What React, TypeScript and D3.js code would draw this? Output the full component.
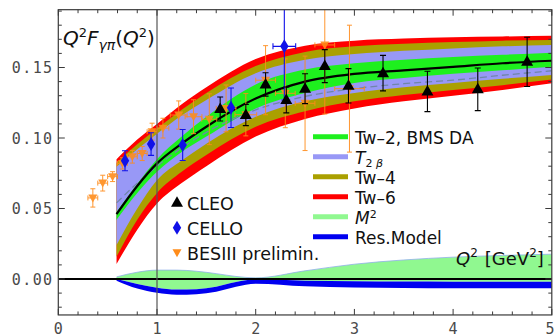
import React from 'react';
import * as d3 from 'd3';

const W = 557, H = 336;

// axes
const xTicks = [0, 1, 2, 3, 4, 5];
const xMinor = d3.range(0, 5.001, 0.2);
const yTicks = [0, 0.05, 0.1, 0.15];
const yTickLabels = ['0.00', '0.05', '0.10', '0.15'];
const yMinor = d3.range(-0.02, 0.1901, 0.01);
const xMin = 0, xMax = 5, yMin = -0.0255, yMax = 0.191;

// theory bands (upper panel)
const bandQ = [0.59, 0.8, 1.0, 1.25, 1.5, 2.0, 2.5, 3.0, 3.5, 4.0, 4.5, 5.0];
const redTop = [0.085, 0.099, 0.110, 0.124, 0.136, 0.156, 0.1655, 0.169, 0.1705, 0.1715, 0.172, 0.1725];
const oliveTop = [0.0825, 0.0955, 0.1065, 0.120, 0.132, 0.151, 0.161, 0.165, 0.1668, 0.168, 0.169, 0.1695];
const lavTop = [0.0796, 0.092, 0.103, 0.116, 0.127, 0.146, 0.1555, 0.1595, 0.1618, 0.1635, 0.165, 0.166];
const greenTop = [0.0475, 0.0675, 0.085, 0.101, 0.115, 0.138, 0.1485, 0.153, 0.1555, 0.1575, 0.159, 0.1605];
const central = [0.046, 0.066, 0.082, 0.096, 0.108, 0.128, 0.140, 0.1455, 0.148, 0.1505, 0.153, 0.1548];
const greenBot = [0.042, 0.061, 0.076, 0.090, 0.101, 0.121, 0.132, 0.139, 0.1425, 0.1455, 0.148, 0.1505];
const dashedLine = [0.054, 0.068, 0.080, 0.093, 0.104, 0.120, 0.1295, 0.135, 0.1385, 0.141, 0.1445, 0.1477];
const lavBot = [0.0241, 0.050, 0.070, 0.084, 0.096, 0.115, 0.126, 0.132, 0.136, 0.139, 0.142, 0.1447];
const oliveBot = [0.0158, 0.042, 0.061, 0.076, 0.088, 0.108, 0.119, 0.126, 0.1305, 0.134, 0.1375, 0.1415];
const redBot = [0.0106, 0.035, 0.0535, 0.068, 0.080, 0.101, 0.1135, 0.121, 0.126, 0.130, 0.134, 0.1388];

// lower panel: M^2 and resonance model
const lowQ = [0.59, 0.8, 1.0, 1.2, 1.4, 1.6, 1.8, 2.0, 2.5, 3.0, 3.5, 4.0, 4.5, 5.0];
const m2Top = [0.0015, 0.0048, 0.0063, 0.0063, 0.0055, 0.0038, 0.0018, 0.0008, 0.0058, 0.0105, 0.0135, 0.0155, 0.0167, 0.0176];
const resTop = [0.0, -0.0035, -0.0062, -0.0075, -0.0072, -0.0055, -0.0022, -0.0002, -0.0012, -0.0016, -0.0018, -0.0019, -0.0019, -0.0019];
const resBot = [-0.0012, -0.0068, -0.0098, -0.0112, -0.0108, -0.009, -0.0055, -0.0033, -0.0052, -0.006, -0.0064, -0.0066, -0.0066, -0.0066];

// data
const cleoQ = [1.64, 1.90, 2.10, 2.31, 2.50, 2.70, 2.94, 3.29, 3.74, 4.25, 4.75];
const cleoF = [0.1206, 0.1163, 0.1380, 0.1270, 0.1350, 0.1510, 0.1370, 0.1460, 0.1330, 0.1345, 0.1540];
const cleoErr = [0.0085, 0.0075, 0.0083, 0.0092, 0.0106, 0.0117, 0.0122, 0.0126, 0.0143, 0.0151, 0.0175];

const celloQ = [0.676, 0.94, 1.26, 1.75, 2.29];
const celloF = [0.0839, 0.0957, 0.095, 0.1215, 0.165];
const celloErr = [0.0071, 0.008, 0.011, 0.014, 0.038];
const celloQErr = [0, 0, 0, 0, 0.115];

const besQ = [0.35, 0.45, 0.55, 0.65, 0.75, 0.85, 0.95, 1.06, 1.22, 1.37, 1.53, 1.70, 1.90, 2.10, 2.30, 2.50, 2.70, 2.95];
const besF = [0.0575, 0.068, 0.0726, 0.082, 0.0867, 0.089, 0.1045, 0.107, 0.1163, 0.1151, 0.1133, 0.121, 0.1165, 0.141, 0.1317, 0.1246, 0.166, 0.135];
const besErr = [0.0065, 0.0056, 0.0035, 0.004, 0.0045, 0.005, 0.006, 0.007, 0.010, 0.012, 0.018, 0.0166, 0.015, 0.0245, 0.0244, 0.0335, 0.049, 0.045];
const besQErr = [0.05, 0.05, 0.05, 0.05, 0.05, 0.05, 0.05, 0.06, 0.085, 0.085, 0.076, 0.1, 0.11, 0.1, 0.1, 0.1, 0.1, 0.15];

const legendA = ['CLEO', 'CELLO', 'BESIII prelimin.'];
const legendB = ['Tw–2, BMS DA', 'T2β', 'Tw–4', 'Tw–6', 'M2', 'Res.Model'];

const C_RED = '#ff0000';
const C_OLIVE = '#aaa000';
const C_LAV = '#9898f6';
const C_GREEN = '#1ef01e';
const C_M2 = '#90f890';
const C_BLUE = '#0000f0';
const C_CELLO = '#1010e8';
const C_BES = '#ff8c1a';
const legendColors = [C_GREEN, C_LAV, C_OLIVE, C_RED, C_M2, C_BLUE];

const x = d3.scaleLinear().domain([xMin, xMax]).range([58.3, 551.8]);
const y = d3.scaleLinear().domain([0, 0.15]).range([279, 67.5]);

const areaPath = (qs: number[], lo: number[], hi: number[]) =>
  d3.area<number>()
    .x((_, i) => x(qs[i]))
    .y0((_, i) => y(lo[i]))
    .y1((_, i) => y(hi[i]))
    .curve(d3.curveMonotoneX)(qs) as string;

const linePath = (qs: number[], v: number[]) =>
  d3.line<number>()
    .x((_, i) => x(qs[i]))
    .y((_, i) => y(v[i]))
    .curve(d3.curveMonotoneX)(qs) as string;

const triUp = 'M0,-6.5L6,4L-6,4Z';
const diamond = 'M0,-7L4.2,0L0,7L-4.2,0Z';
const triDown = 'M0,4.5L4.5,-3.5L-4.5,-3.5Z';

const sans = 'DejaVu Sans, Verdana, sans-serif';
const mono = 'DejaVu Sans Mono, monospace';

export default function App() {
  const left = x(xMin), right = x(xMax), top = y(yMax), bottom = y(yMin);
  const frameColor = '#3a3a3a';

  const renderLegendB = (i: number) => {
    if (i === 1) {
      return (
        <>
          <tspan fontStyle="italic">T</tspan>
          <tspan fontSize={11} dy={3}>2 </tspan>
          <tspan fontSize={11} fontStyle="italic">β</tspan>
        </>
      );
    }
    if (i === 4) {
      return (
        <>
          <tspan fontStyle="italic">M</tspan>
          <tspan fontSize={11} dy={-6}>2</tspan>
        </>
      );
    }
    return <tspan>{legendB[i]}</tspan>;
  };

  return (
    <svg width={W} height={H} style={{ position: 'absolute', left: 0, top: 0, background: '#fff' }}>
      <defs>
        <clipPath id="plotClip">
          <rect x={left} y={top} width={right - left} height={bottom - top} />
        </clipPath>
      </defs>
      <rect x={0} y={0} width={W} height={H} fill="#fff" />

      <g clipPath="url(#plotClip)">
        {/* theory bands */}
        <path d={areaPath(bandQ, redBot, redTop)} fill={C_RED} />
        <path d={areaPath(bandQ, oliveBot, oliveTop)} fill={C_OLIVE} />
        <path d={areaPath(bandQ, lavBot, lavTop)} fill={C_LAV} />
        <path d={areaPath(bandQ, greenBot, greenTop)} fill={C_GREEN} />
        <path d={linePath(bandQ, dashedLine)} fill="none" stroke="#6f86a8" strokeWidth={1.3} strokeDasharray="7,4" />
        <path d={linePath(bandQ, central)} fill="none" stroke="#000" strokeWidth={2.2} />

        {/* lower panel */}
        <path d={areaPath(lowQ, resTop, m2Top)} fill={C_M2} />
        <path d={linePath(lowQ, m2Top)} fill="none" stroke="#8fb0e8" strokeWidth={0.8} />
        <path d={areaPath(lowQ, resBot, resTop)} fill={C_BLUE} />
        <line x1={left} x2={right} y1={y(0)} y2={y(0)} stroke="#000" strokeWidth={2.2} />

        {/* vertical line at Q^2 = 1 */}
        <line x1={x(1)} x2={x(1)} y1={top} y2={bottom} stroke="#555" strokeWidth={1.2} />

        {/* BESIII */}
        {besQ.map((q, i) => {
          const cx = x(q), cy = y(besF[i]);
          const y1 = y(besF[i] + besErr[i]), y2 = y(besF[i] - besErr[i]);
          const x1 = x(q - besQErr[i]), x2 = x(q + besQErr[i]);
          return (
            <g key={'b' + i} stroke={C_BES} strokeWidth={1} opacity={0.9}>
              <line x1={cx} x2={cx} y1={y1} y2={y2} />
              <line x1={cx - 2.5} x2={cx + 2.5} y1={y1} y2={y1} />
              <line x1={cx - 2.5} x2={cx + 2.5} y1={y2} y2={y2} />
              <line x1={x1} x2={x2} y1={cy} y2={cy} />
              <line x1={x1} x2={x1} y1={cy - 2.5} y2={cy + 2.5} />
              <line x1={x2} x2={x2} y1={cy - 2.5} y2={cy + 2.5} />
              <path d={triDown} transform={`translate(${cx},${cy})`} fill={C_BES} stroke="none" />
            </g>
          );
        })}

        {/* CELLO */}
        {celloQ.map((q, i) => {
          const cx = x(q), cy = y(celloF[i]);
          const y1 = y(celloF[i] + celloErr[i]), y2 = y(celloF[i] - celloErr[i]);
          return (
            <g key={'c' + i} stroke={C_CELLO} strokeWidth={1.1}>
              <line x1={cx} x2={cx} y1={y1} y2={y2} />
              <line x1={cx - 3} x2={cx + 3} y1={y1} y2={y1} />
              <line x1={cx - 3} x2={cx + 3} y1={y2} y2={y2} />
              {celloQErr[i] > 0 && (
                <>
                  <line x1={x(q - celloQErr[i])} x2={x(q + celloQErr[i])} y1={cy} y2={cy} />
                  <line x1={x(q - celloQErr[i])} x2={x(q - celloQErr[i])} y1={cy - 3} y2={cy + 3} />
                  <line x1={x(q + celloQErr[i])} x2={x(q + celloQErr[i])} y1={cy - 3} y2={cy + 3} />
                </>
              )}
              <path d={diamond} transform={`translate(${cx},${cy})`} fill={C_CELLO} stroke="none" />
            </g>
          );
        })}

        {/* CLEO */}
        {cleoQ.map((q, i) => {
          const cx = x(q), cy = y(cleoF[i]);
          const y1 = y(cleoF[i] + cleoErr[i]), y2 = y(cleoF[i] - cleoErr[i]);
          return (
            <g key={'l' + i} stroke="#000" strokeWidth={1.1}>
              <line x1={cx} x2={cx} y1={y1} y2={y2} />
              <line x1={cx - 3} x2={cx + 3} y1={y1} y2={y1} />
              <line x1={cx - 3} x2={cx + 3} y1={y2} y2={y2} />
              <path d={triUp} transform={`translate(${cx},${cy})`} fill="#000" stroke="none" />
            </g>
          );
        })}
      </g>

      {/* frame */}
      <rect x={left} y={top} width={right - left} height={bottom - top} fill="none" stroke={frameColor} strokeWidth={1.2} />
      {/* x ticks */}
      {xMinor.map((v, i) => {
        const major = Math.abs(v - Math.round(v)) < 1e-6;
        const len = major ? 6 : 3.5;
        return (
          <g key={'xt' + i} stroke={frameColor} strokeWidth={1}>
            <line x1={x(v)} x2={x(v)} y1={bottom} y2={bottom - len} />
            <line x1={x(v)} x2={x(v)} y1={top} y2={top + len} />
          </g>
        );
      })}
      {/* y ticks */}
      {yMinor.map((v, i) => {
        const major = Math.abs(v / 0.05 - Math.round(v / 0.05)) < 1e-6;
        const len = major ? 6.5 : 3.5;
        return (
          <g key={'yt' + i} stroke={frameColor} strokeWidth={1}>
            <line x1={left} x2={left + len} y1={y(v)} y2={y(v)} />
            <line x1={right} x2={right - len} y1={y(v)} y2={y(v)} />
          </g>
        );
      })}
      {yTicks.map((v, i) => (
        <text key={'yl' + i} x={53.5} y={y(v) + 5.5} textAnchor="end" fontFamily={mono} fontSize={15} letterSpacing={1.4} fill="#4a4a4a">
          {yTickLabels[i]}
        </text>
      ))}
      {xTicks.map((v, i) => (
        <text key={'xl' + i} x={Math.min(x(v), 550)} y={333.5} textAnchor="middle" fontFamily={mono} fontSize={15} fill="#4a4a4a">
          {String(v)}
        </text>
      ))}

      {/* title */}
      <text x={63} y={45} fontFamily={sans} fontSize={20} fill="#111">
        <tspan fontStyle="italic">Q</tspan>
        <tspan fontSize={13} dy={-8}>2</tspan>
        <tspan fontStyle="italic" dy={8}>F</tspan>
        <tspan fontStyle="italic" fontSize={14} dy={5}>γπ</tspan>
        <tspan dy={-5}>(</tspan>
        <tspan fontStyle="italic">Q</tspan>
        <tspan fontSize={13} dy={-8}>2</tspan>
        <tspan dy={8}>)</tspan>
      </text>

      {/* x-axis label */}
      <text x={456} y={265} fontFamily={sans} fontSize={18} fill="#111">
        <tspan fontStyle="italic">Q</tspan>
        <tspan fontSize={12} dy={-8}>2</tspan>
        <tspan dy={8} dx={7}>[GeV</tspan>
        <tspan fontSize={12} dy={-8}>2</tspan>
        <tspan dy={8}>]</tspan>
      </text>

      {/* legend A (data) */}
      {legendA.map((lab, i) => {
        const ly = 202.7 + i * 25;
        const sym = i === 0 ? triUp : i === 1 ? diamond : triDown;
        const col = i === 0 ? '#000' : i === 1 ? C_CELLO : C_BES;
        return (
          <g key={'la' + i}>
            <path d={sym} transform={`translate(177,${ly})`} fill={col} />
            <text x={187} y={ly + 6.8} fontFamily={sans} fontSize={17.5} fill="#111">{lab}</text>
          </g>
        );
      })}

      {/* legend B (theory) */}
      {legendB.map((lab, i) => {
        const ly = 136.7 + i * 20;
        return (
          <g key={'lb' + i}>
            <line x1={313} x2={348} y1={ly} y2={ly} stroke={legendColors[i]} strokeWidth={5} />
            <text x={355} y={ly + 7.3} fontFamily={sans} fontSize={17} fill="#111">
              {renderLegendB(i)}
            </text>
          </g>
        );
      })}
    </svg>
  );
}
